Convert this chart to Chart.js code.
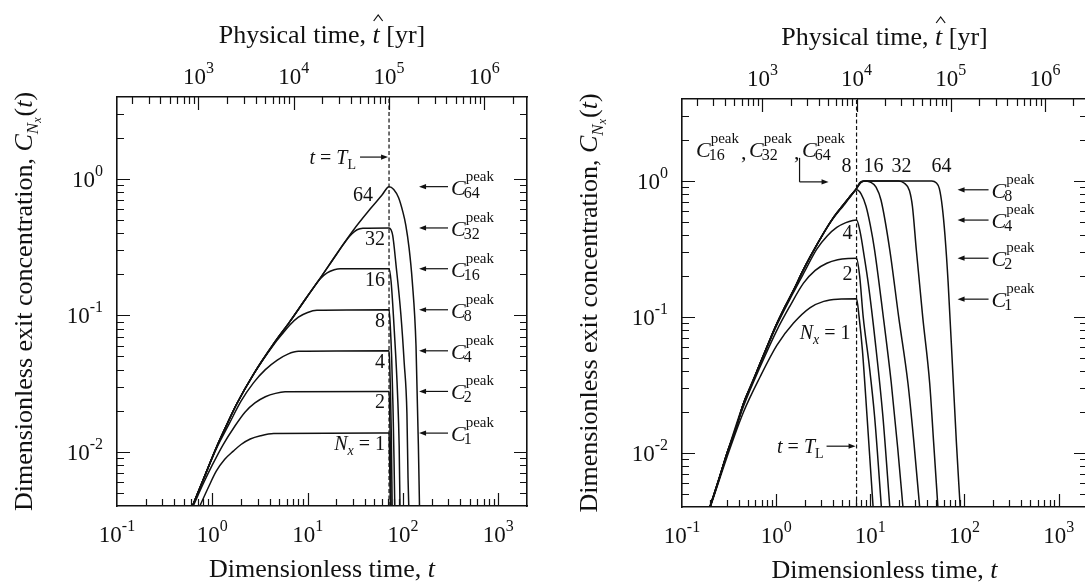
<!DOCTYPE html>
<html>
<head>
<meta charset="utf-8">
<title>Exit concentration curves</title>
<script src="https://cdn.jsdelivr.net/npm/chart.js@4.4.1/dist/chart.umd.min.js"></script>
<style>
  html, body { margin: 0; padding: 0; background: #fff; overflow: hidden; }
  body { width: 1085px; height: 586px; position: relative; }
  canvas { position: absolute; top: 0; }
  #leftChart { left: 0; }
  #rightChart { left: 545px; }
</style>
</head>
<body>
<canvas id="leftChart" width="545" height="586"></canvas>
<canvas id="rightChart" width="560" height="586"></canvas>
<script>
const FONT = "'Liberation Serif', 'Times New Roman', Times, serif";
const INK = '#111';

// axis ranges (dimensionless time t, concentration C)
const tMin = 0.1, tMax = 2000;
const cMin = 0.004, cMax = 4;
const yrPerT = 1400;   // physical years per unit of t (top axis)

const bottomExps = [-1, 0, 1, 2, 3];
const topExps = [3, 4, 5, 6];
const leftExps = [-2, -1, 0];
const nxLabels = ['1', '2', '4', '8', '16', '32', '64'];

// ---------- left panel ----------
const leftTL = 71.4;
const leftPeak = [0.0137, 0.0277, 0.055, 0.11, 0.22, 0.438, 0.88];

const leftNx1 = [[0.74,0.004],[0.9,0.0054],[1.1,0.0072],[1.35,0.0088],[1.66,0.0101],[2.0,0.0113],[2.5,0.0124],[3.2,0.0131],[4.4,0.0136],[71.4,0.0137],[72.2,0.0100],[73.0,0.0060],[73.8,0.004]];
const leftNx2 = [[0.63,0.004],[0.8,0.0058],[1.0,0.0080],[1.3,0.0113],[1.7,0.0152],[2.2,0.0195],[2.8,0.0228],[3.6,0.0253],[4.6,0.0268],[5.8,0.0275],[71.4,0.0277],[72.3,0.0220],[73.5,0.0120],[75.0,0.004]];
const leftNx4 = [[0.62,0.004],[0.8,0.0062],[1.1,0.0105],[1.5,0.0160],[2.0,0.0235],[2.7,0.0320],[3.6,0.0400],[4.8,0.0470],[6.2,0.0520],[8.0,0.0545],[71.4,0.055],[72.5,0.045],[74.0,0.027],[75.5,0.013],[77.0,0.004]];
const leftNx8 = [[0.62,0.004],[0.8,0.0062],[1.1,0.0107],[1.4,0.0155],[1.8,0.0224],[2.7,0.037],[4.4,0.061],[5.5,0.074],[6.5,0.085],[8.0,0.097],[10.0,0.105],[12.5,0.109],[71.4,0.11],[73.5,0.085],[76.0,0.05],[78.5,0.022],[80.5,0.009],[82.0,0.004]];
const leftNx16 = [[0.62,0.004],[0.8,0.0062],[1.1,0.0107],[1.4,0.0155],[1.8,0.0224],[2.7,0.037],[4.4,0.062],[6.5,0.09],[9.5,0.132],[11.5,0.16],[13.5,0.185],[16.0,0.205],[19.0,0.216],[22.0,0.22],[71.4,0.22],[75.0,0.178],[81.0,0.078],[87.8,0.026],[91.2,0.011],[93.0,0.004]];
const leftNx32 = [[0.62,0.004],[0.8,0.0062],[1.1,0.0107],[1.4,0.0155],[1.8,0.0224],[2.7,0.037],[4.4,0.062],[6.5,0.09],[9.5,0.132],[13.5,0.187],[20.0,0.28],[25.0,0.35],[29.0,0.395],[33.0,0.425],[38.0,0.436],[71.4,0.438],[78.0,0.386],[84.5,0.235],[95.0,0.102],[103.0,0.045],[110.0,0.019],[113.0,0.0064],[115.0,0.004]];
const leftNx64 = [[0.62,0.004],[0.8,0.0062],[1.1,0.0107],[1.4,0.0155],[1.8,0.0224],[2.7,0.037],[4.4,0.062],[6.5,0.09],[9.5,0.132],[13.5,0.187],[20.0,0.28],[30.0,0.42],[45.0,0.6],[60.0,0.76],[71.4,0.88],[80.0,0.84],[90.0,0.73],[100.0,0.57],[107.0,0.46],[116.0,0.31],[125.0,0.18],[137.0,0.06],[145.0,0.0113],[149.0,0.004]];
const leftCurves = [leftNx1, leftNx2, leftNx4, leftNx8, leftNx16, leftNx32, leftNx64];

// ---------- right panel ----------
const rightTL = 7.14;
const rightPeak = [0.135, 0.27, 0.515, 0.86];   // C1, C2, C4, C8

const rightNx1 = [[0.2,0.004],[0.3,0.0093],[0.45,0.020],[0.676,0.0363],[1.02,0.062],[1.53,0.090],[2.3,0.117],[3.2,0.130],[4.5,0.135],[7.14,0.136],[7.6,0.100],[8.24,0.057],[9.23,0.0185],[10.7,0.004]];
const rightNx2 = [[0.198,0.004],[0.3,0.0097],[0.45,0.022],[0.676,0.043],[1.02,0.080],[1.4,0.120],[1.95,0.177],[2.6,0.220],[3.45,0.248],[4.5,0.263],[5.8,0.269],[7.14,0.27],[7.7,0.20],[8.4,0.10],[9.7,0.045],[11.1,0.0185],[13.1,0.004]];
const rightNx4 = [[0.198,0.004],[0.3,0.0099],[0.45,0.0231],[0.676,0.0452],[1.0,0.085],[1.5,0.148],[2.0,0.215],[2.7,0.315],[3.5,0.395],[4.4,0.455],[5.5,0.493],[6.5,0.511],[7.14,0.515],[7.8,0.42],[8.6,0.28],[9.5,0.177],[11.3,0.065],[13.6,0.0185],[16.1,0.004]];
const rightNx8 = [[0.198,0.004],[0.24,0.006],[0.3,0.0099],[0.37,0.0148],[0.45,0.0231],[0.55,0.032],[0.676,0.0456],[0.82,0.063],[1.0,0.087],[1.25,0.12],[1.55,0.16],[1.9,0.215],[2.3,0.277],[3.0,0.383],[4.0,0.525],[5.2,0.66],[6.2,0.77],[7.14,0.86],[8.0,0.80],[9.0,0.65],[10.0,0.47],[11.1,0.31],[13.5,0.11],[16.7,0.0325],[19.5,0.011],[22.2,0.004]];
const rightNx16 = [[0.198,0.004],[0.24,0.006],[0.3,0.0099],[0.37,0.0148],[0.45,0.0231],[0.55,0.032],[0.676,0.0456],[0.82,0.063],[1.0,0.087],[1.25,0.12],[1.55,0.16],[1.9,0.215],[2.3,0.277],[3.0,0.385],[4.0,0.53],[5.2,0.67],[6.2,0.78],[7.14,0.88],[7.7,0.97],[8.5,1.0],[10.0,0.98],[11.5,0.90],[13.0,0.72],[16.1,0.31],[20.0,0.10],[25.1,0.0325],[29.0,0.012],[33.4,0.004]];
const rightNx32 = [[0.198,0.004],[0.24,0.006],[0.3,0.0099],[0.37,0.0148],[0.45,0.0231],[0.55,0.032],[0.676,0.0456],[0.82,0.063],[1.0,0.087],[1.25,0.12],[1.55,0.16],[1.9,0.215],[2.3,0.277],[3.0,0.385],[4.0,0.53],[5.2,0.67],[6.2,0.78],[7.14,0.88],[8.0,0.98],[9.0,1.0],[20.0,1.0],[23.0,0.96],[26.0,0.85],[28.0,0.65],[30.8,0.31],[36.0,0.10],[42.7,0.0325],[47.0,0.012],[52.2,0.004]];
const rightNx64 = [[0.198,0.004],[0.24,0.006],[0.3,0.0099],[0.37,0.0148],[0.45,0.0231],[0.55,0.032],[0.676,0.0456],[0.82,0.063],[1.0,0.087],[1.25,0.12],[1.55,0.16],[1.9,0.215],[2.3,0.277],[3.0,0.385],[4.0,0.53],[5.2,0.67],[6.2,0.78],[7.14,0.88],[8.0,0.98],[9.0,1.0],[45.0,1.0],[50.0,0.97],[54.0,0.88],[58.0,0.65],[62.0,0.40],[67.0,0.18],[75.0,0.04],[82.0,0.012],[90.0,0.004]];
const rightCurves = [rightNx1, rightNx2, rightNx4, rightNx8, rightNx16, rightNx32, rightNx64];

// ---------- text helpers ----------
const f = (size, italic) => (italic ? 'italic ' : '') + size + 'px ' + FONT;

function drawRich(ctx, parts, x, y, align) {
  let w = 0;
  parts.forEach(p => { ctx.font = p.font; p.w = ctx.measureText(p.text).width; w += p.w + (p.gap || 0); });
  let cx = align === 'center' ? x - w / 2 : (align === 'right' ? x - w : x);
  const pos = [];
  parts.forEach(p => {
    ctx.font = p.font;
    ctx.fillText(p.text, cx, y + (p.dy || 0));
    pos.push({ x: cx, w: p.w });
    cx += p.w + (p.gap || 0);
  });
  return pos;
}

function drawPow(ctx, x, y, e, align) {
  drawRich(ctx, [
    { text: '10', font: f(23) },
    { text: e < 0 ? '-' + (-e) : String(e), font: f(16), dy: -11 }
  ], x, y, align);
}

// C with "peak" superscript and Nx subscript, vertically centred on yMid
function drawCPeak(ctx, x, yMid, sub) {
  ctx.font = f(22, true);
  const wC = ctx.measureText('C').width;
  ctx.fillText('C', x, yMid + 8);
  ctx.font = f(15);
  ctx.fillText('peak', x + wC, yMid - 6);
  const wp = ctx.measureText('peak').width;
  ctx.font = f(16);
  ctx.fillText(sub, x + wC - 2, yMid + 11);
  const ws = ctx.measureText(sub).width;
  return wC + Math.max(wp, ws - 2);
}

function drawNx(ctx, x, y, align) {
  drawRich(ctx, [
    { text: 'N', font: f(20, true) },
    { text: 'x', font: f(14, true), dy: 5 },
    { text: ' = 1', font: f(20) }
  ], x, y, align);
}

function drawTL(ctx, x, y) {
  drawRich(ctx, [
    { text: 't', font: f(20, true) },
    { text: ' = ', font: f(20) },
    { text: 'T', font: f(20, true) },
    { text: 'L', font: f(14), dy: 5 }
  ], x, y, 'right');
}

function arrow(ctx, x1, y1, x2, y2) {
  const ang = Math.atan2(y2 - y1, x2 - x1), L = 7, H = 2.6;
  ctx.beginPath();
  ctx.moveTo(x1, y1);
  ctx.lineTo(x2 - 4 * Math.cos(ang), y2 - 4 * Math.sin(ang));
  ctx.stroke();
  ctx.beginPath();
  ctx.moveTo(x2, y2);
  ctx.lineTo(x2 - L * Math.cos(ang) + H * Math.sin(ang), y2 - L * Math.sin(ang) - H * Math.cos(ang));
  ctx.lineTo(x2 - L * Math.cos(ang) - H * Math.sin(ang), y2 - L * Math.sin(ang) + H * Math.cos(ang));
  ctx.closePath();
  ctx.fill();
}

// inward log ticks, long at decades
function drawTicks(ctx, scale, area, side) {
  const lo = Math.floor(Math.log10(scale.min)), hi = Math.ceil(Math.log10(scale.max));
  ctx.beginPath();
  for (let e = lo; e <= hi; e++) {
    for (let m = 1; m < 10; m++) {
      const v = m * Math.pow(10, e);
      if (v < scale.min * 1.0001 || v > scale.max * 0.9999) continue;
      const p = Math.round(scale.getPixelForValue(v)) + 0.5;
      const len = m === 1 ? 13 : 7;
      if (side === 'bottom') { ctx.moveTo(p, area.bottom); ctx.lineTo(p, area.bottom - len); }
      if (side === 'top') { ctx.moveTo(p, area.top); ctx.lineTo(p, area.top + len); }
      if (side === 'left') { ctx.moveTo(area.left, p); ctx.lineTo(area.left + len, p); }
      if (side === 'right') { ctx.moveTo(area.right, p); ctx.lineTo(area.right - len, p); }
    }
  }
  ctx.stroke();
}

function annotateLeft(ctx, chart) {
  const sx = chart.scales.x, sy = chart.scales.y;
  const dx = sx.getPixelForValue(leftTL);
  const ya = sy.getPixelForValue(1.45);
  drawTL(ctx, dx - 33, ya + 7);
  arrow(ctx, dx - 29, ya, dx - 1, ya);
  leftPeak.forEach((c, i) => {
    const yp = sy.getPixelForValue(c);
    if (i === 0) drawNx(ctx, dx - 4, yp + 17, 'right');
    else if (i === 6) drawRich(ctx, [{ text: '64', font: f(20) }], dx - 16, yp + 14, 'right');
    else drawRich(ctx, [{ text: nxLabels[i], font: f(20) }], dx - 4, yp + 17, 'right');
    arrow(ctx, dx + 59, yp, dx + 30, yp);
    drawCPeak(ctx, dx + 62, yp, nxLabels[i]);
  });
}

function annotateRight(ctx, chart) {
  const sx = chart.scales.x, sy = chart.scales.y, a = chart.chartArea;
  const dx = sx.getPixelForValue(rightTL);
  const y1 = sy.getPixelForValue(1);
  // C16, C32, C64 share the plateau at 1
  let x = a.left + 14;
  ['16', '32', '64'].forEach((n, i) => {
    x += drawCPeak(ctx, x, y1 - 32, n);
    if (i < 2) { ctx.font = f(22); ctx.fillText(',', x + 2, y1 - 22); x += 10; }
  });
  ctx.beginPath();
  ctx.moveTo(dx - 57, y1 - 23); ctx.lineTo(dx - 57, y1 + 1);
  ctx.stroke();
  arrow(ctx, dx - 57, y1 + 1, dx - 28, y1 + 1);
  // curve labels
  const top = y1 - 9;
  drawRich(ctx, [{ text: '8', font: f(20) }], dx - 10, top, 'center');
  drawRich(ctx, [{ text: '16', font: f(20) }], dx + 17, top, 'center');
  drawRich(ctx, [{ text: '32', font: f(20) }], dx + 45, top, 'center');
  drawRich(ctx, [{ text: '64', font: f(20) }], dx + 85, top, 'center');
  drawRich(ctx, [{ text: '4', font: f(20) }], dx - 4, sy.getPixelForValue(rightPeak[2]) + 19, 'right');
  drawRich(ctx, [{ text: '2', font: f(20) }], dx - 4, sy.getPixelForValue(rightPeak[1]) + 22, 'right');
  drawNx(ctx, dx - 6, sy.getPixelForValue(rightPeak[0]) + 40, 'right');
  // t = T_L
  const yt = sy.getPixelForValue(0.0112);
  drawTL(ctx, dx - 33, yt + 7);
  arrow(ctx, dx - 30, yt, dx - 1, yt);
  // peak arrows on the right
  ['1', '2', '4', '8'].forEach((n, i) => {
    const yp = sy.getPixelForValue(rightPeak[i]);
    arrow(ctx, dx + 132, yp, dx + 101, yp);
    drawCPeak(ctx, dx + 135, yp, n);
  });
}

function decorPlugin(annotate) {
  return {
    id: 'decor',
    afterDraw(chart) {
      const ctx = chart.ctx, a = chart.chartArea;
      const sx = chart.scales.x, sxt = chart.scales.xTop, sy = chart.scales.y;
      ctx.save();
      ctx.strokeStyle = INK;
      ctx.fillStyle = INK;
      ctx.lineWidth = 1.2;
      ctx.textAlign = 'left';
      ctx.textBaseline = 'alphabetic';

      drawTicks(ctx, sx, a, 'bottom');
      drawTicks(ctx, sxt, a, 'top');
      drawTicks(ctx, sy, a, 'left');
      drawTicks(ctx, sy, a, 'right');

      bottomExps.forEach(e => drawPow(ctx, sx.getPixelForValue(Math.pow(10, e)), a.bottom + 36, e, 'center'));
      topExps.forEach(e => drawPow(ctx, sxt.getPixelForValue(Math.pow(10, e)), a.top - 13, e, 'center'));
      leftExps.forEach(e => drawPow(ctx, a.left - 14, sy.getPixelForValue(Math.pow(10, e)) + 8, e, 'right'));

      const cx = (a.left + a.right) / 2;
      // top title, hat drawn over the italic t
      const tb = a.top - 54;
      const pos = drawRich(ctx, [
        { text: 'Physical time, ', font: f(26) },
        { text: 't', font: f(26, true) },
        { text: ' [yr]', font: f(26) }
      ], cx, tb, 'center');
      const hx = pos[1].x + pos[1].w / 2 + 2;
      ctx.beginPath();
      ctx.moveTo(hx - 4.5, tb - 22);
      ctx.lineTo(hx, tb - 28);
      ctx.lineTo(hx + 4.5, tb - 22);
      ctx.stroke();

      drawRich(ctx, [
        { text: 'Dimensionless time, ', font: f(26) },
        { text: 't', font: f(26, true) }
      ], cx, a.bottom + 71, 'center');

      ctx.save();
      ctx.translate(a.left - 85, (a.top + a.bottom) / 2);
      ctx.rotate(-Math.PI / 2);
      drawRich(ctx, [
        { text: 'Dimensionless exit concentration, ', font: f(26) },
        { text: 'C', font: f(26, true) },
        { text: 'N', font: f(17, true), dy: 6 },
        { text: 'x', font: f(12, true), dy: 9, gap: 1 },
        { text: '(', font: f(26) },
        { text: 't', font: f(26, true) },
        { text: ')', font: f(26) }
      ], 0, 0, 'center');
      ctx.restore();

      annotate(ctx, chart);
      ctx.restore();
    }
  };
}

function buildChart(canvasId, curves, tl, box, annotate) {
  const datasets = curves.map(pts => ({
    data: pts.map(p => ({ x: p[0], y: p[1] })),
    borderColor: INK,
    borderWidth: 1.5,
    pointRadius: 0,
    fill: false,
    cubicInterpolationMode: 'monotone'
  }));
  // t = T_L marker
  datasets.push({
    data: [{ x: tl, y: cMin }, { x: tl, y: cMax }],
    borderColor: INK,
    borderWidth: 1.2,
    borderDash: [4, 2.5],
    pointRadius: 0,
    fill: false
  });
  const hidden = { ticks: { display: false }, grid: { display: false }, border: { color: INK, width: 1.6 } };
  return new Chart(document.getElementById(canvasId), {
    type: 'line',
    data: { datasets },
    options: {
      responsive: false,
      animation: false,
      events: [],
      layout: { padding: 0 },
      plugins: { legend: { display: false }, tooltip: { enabled: false } },
      scales: {
        x: Object.assign({ type: 'logarithmic', position: 'bottom', min: tMin, max: tMax,
          afterFit: s => { s.height = box.bottom; } }, hidden),
        xTop: Object.assign({ type: 'logarithmic', position: 'top', min: tMin * yrPerT, max: tMax * yrPerT,
          afterFit: s => { s.height = box.top; } }, hidden),
        y: Object.assign({ type: 'logarithmic', position: 'left', min: cMin, max: cMax,
          afterFit: s => { s.width = box.left; } }, hidden),
        yRight: Object.assign({ type: 'logarithmic', position: 'right', min: cMin, max: cMax,
          afterFit: s => { s.width = box.right; } }, hidden)
      }
    },
    plugins: [decorPlugin(annotate)]
  });
}

buildChart('leftChart', leftCurves, leftTL, { left: 117, right: 18, top: 97, bottom: 80 }, annotateLeft);
buildChart('rightChart', rightCurves, rightTL, { left: 137, right: 18, top: 99, bottom: 79 }, annotateRight);
</script>
</body>
</html>
